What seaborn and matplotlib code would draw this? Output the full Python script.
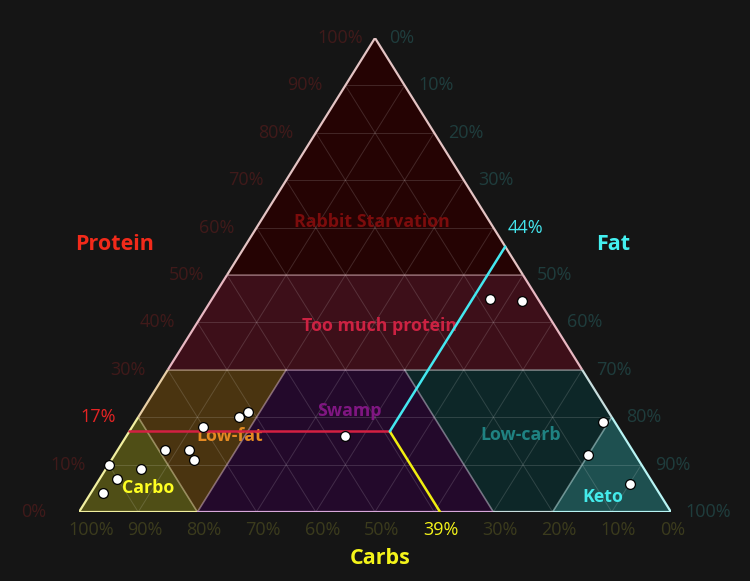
import numpy as np
import pandas as pd
import matplotlib
matplotlib.use("Agg")
import matplotlib.pyplot as plt
from matplotlib.patches import Polygon
import seaborn as sns

# foods: % of calories from carbs / protein / fat
carbs = [90, 90, 94, 85, 79, 75, 75, 70, 63, 61, 47, 2, 8, 4, 8, 3]
protein = [10, 7, 4, 9, 13, 13, 11, 18, 20, 21, 16, 19, 12, 6, 45, 44.5]
fat = [0, 3, 2, 6, 8, 12, 14, 12, 17, 18, 37, 79, 80, 90, 47, 52.5]

ticks = [0, 10, 20, 30, 40, 50, 60, 70, 80, 90, 100]
protein_cut = 17
carbs_cut = 39
fat_cut = 44

# region name -> corners as (carbs, protein, fat)
regions = {
    "Rabbit Starvation": [(0.5, 0.5, 0), (0, 1, 0), (0, 0.5, 0.5)],
    "Too much protein": [(0.7, 0.3, 0), (0.5, 0.5, 0), (0, 0.5, 0.5), (0, 0.3, 0.7)],
    "Carbo": [(1, 0, 0), (0.8, 0.2, 0), (0.8, 0, 0.2)],
    "Low-fat": [(0.8, 0.2, 0), (0.7, 0.3, 0), (0.5, 0.3, 0.2), (0.8, 0, 0.2)],
    "Swamp": [(0.5, 0.3, 0.2), (0.3, 0.3, 0.4), (0.3, 0, 0.7), (0.8, 0, 0.2)],
    "Low-carb": [(0.3, 0.3, 0.4), (0, 0.3, 0.7), (0, 0.2, 0.8), (0.2, 0, 0.8), (0.3, 0, 0.7)],
    "Keto": [(0, 0.2, 0.8), (0, 0, 1), (0.2, 0, 0.8)],
}
fills = {"Rabbit Starvation": "#250303", "Too much protein": "#3d0f19",
         "Carbo": "#4f4e16", "Low-fat": "#4a3410", "Swamp": "#23092b",
         "Low-carb": "#0d2728", "Keto": "#1e5050"}
edges = {"Rabbit Starvation": "#e4c4c4", "Too much protein": "#e8b8c2",
         "Carbo": "#f2f0a0", "Low-fat": "#e8cfa6", "Swamp": "#d8a8da",
         "Low-carb": "#c8dede", "Keto": "#b8f4f4"}
text_col = {"Rabbit Starvation": "#7c0c0c", "Too much protein": "#cc2242",
            "Carbo": "#ffff22", "Low-fat": "#e48a22", "Swamp": "#801682",
            "Low-carb": "#1f8282", "Keto": "#44eaea"}
# label centres in plot units (x across, y up)
label_pos = {"Rabbit Starvation": (0.495, 0.612), "Too much protein": (0.507, 0.392),
             "Carbo": (0.117, 0.051), "Low-fat": (0.254, 0.160), "Swamp": (0.456, 0.213),
             "Low-carb": (0.746, 0.162), "Keto": (0.884, 0.032)}


def xy(c, p, f):
    s = c + p + f
    return f / s + p / s / 2, p / s


sns.set_theme(style="dark")
plt.rcParams["font.family"] = ["Open Sans", "DejaVu Sans"]

fig = plt.figure(figsize=(7.5, 5.81), dpi=100, facecolor="#151515")
ax = fig.add_axes([79 / 750, 69 / 581, 592 / 750, 474 / 581])
ax.set_facecolor("#151515")
ax.set_xlim(0, 1)
ax.set_ylim(0, 1)
ax.axis("off")

for name, pts in regions.items():
    poly = [xy(*p) for p in pts]
    ax.add_patch(Polygon(poly, closed=True, facecolor=fills[name], edgecolor="none", zorder=1))
    for a, b in zip(pts, pts[1:] + pts[:1]):
        outer = any(a[i] == 0 and b[i] == 0 for i in range(3))
        (x1, y1), (x2, y2) = xy(*a), xy(*b)
        if outer:
            ax.plot([x1, x2], [y1, y2], color=edges[name], lw=1.6, zorder=4, solid_capstyle="butt")
        else:
            ax.plot([x1, x2], [y1, y2], color=edges[name], lw=1.2, alpha=0.25, zorder=3)

# grid lines
for t in np.arange(0.1, 1.0, 0.1):
    for a, b in [((1 - t, t, 0), (0, t, 1 - t)), ((t, 1 - t, 0), (t, 0, 1 - t)),
                 ((0, 1 - t, t), (1 - t, 0, t))]:
        (x1, y1), (x2, y2) = xy(*a), xy(*b)
        ax.plot([x1, x2], [y1, y2], color="white", lw=0.7, alpha=0.14, zorder=2)

for name, (x, y) in label_pos.items():
    ax.text(x, y, name, color=text_col[name], fontsize=12.8, fontweight="bold",
            ha="center", va="center", zorder=5)

# cut lines
pc, cc, fc = protein_cut / 100, carbs_cut / 100, fat_cut / 100
meet = xy(cc, pc, fc)
for a, col in [((1 - pc, pc, 0), "#d42042"), ((cc, 0, 1 - cc), "#f0ee10"),
               ((0, 1 - fc, fc), "#44e8f0")]:
    x1, y1 = xy(*a)
    ax.plot([x1, meet[0]], [y1, meet[1]], color=col, lw=1.8, zorder=6)

df = pd.DataFrame({"carbs": carbs, "protein": protein, "fat": fat})
df["x"], df["y"] = xy(df["carbs"], df["protein"], df["fat"])
sns.scatterplot(data=df, x="x", y="y", ax=ax, s=50, color="white",
                edgecolor="black", linewidth=0.9, zorder=8, clip_on=False)
ax.set_xlabel("")
ax.set_ylabel("")

# tick labels
for t in ticks:
    v = t / 100
    lab = f"{t}%"
    col_p, col_f, col_c = "#401a1a", "#1f3d3d", "#3b3b1d"
    if t == 20:
        lab_p, col_p = f"{protein_cut}%", "#e42424"
    else:
        lab_p = lab
    if t == 40:
        lab_f, col_f = f"{fat_cut}%", "#44e6ee"
        lab_c, col_c = f"{carbs_cut}%", "#f4f41a"
    else:
        lab_f = lab_c = lab
    ax.annotate(lab_p, xy(1 - v, v, 0), xytext=(-58 * 0.72, 0), textcoords="offset points",
                ha="left", va="center", color=col_p, fontsize=13, annotation_clip=False)
    ax.annotate(lab_f, xy(0, 1 - v, v), xytext=(14 * 0.72, 0),
                textcoords="offset points", ha="left", va="center", color=col_f,
                fontsize=13, annotation_clip=False)
    ax.annotate(lab_c, xy(v, 0, 1 - v), xytext=(-11 * 0.72, -18 * 0.72),
                textcoords="offset points", ha="left", va="center", color=col_c,
                fontsize=13, annotation_clip=False)

fig.text(115 / 750, 1 - 244 / 581, "Protein", color="#f22a1a", fontsize=15.5,
         fontweight="bold", ha="center", va="center")
fig.text(613 / 750, 1 - 244 / 581, "Fat", color="#44f0f0", fontsize=15.5,
         fontweight="bold", ha="center", va="center")
fig.text(380 / 750, 1 - 559 / 581, "Carbs", color="#f4f41a", fontsize=15.5,
         fontweight="bold", ha="center", va="center")

fig.savefig("out.png", dpi=100, facecolor=fig.get_facecolor())
